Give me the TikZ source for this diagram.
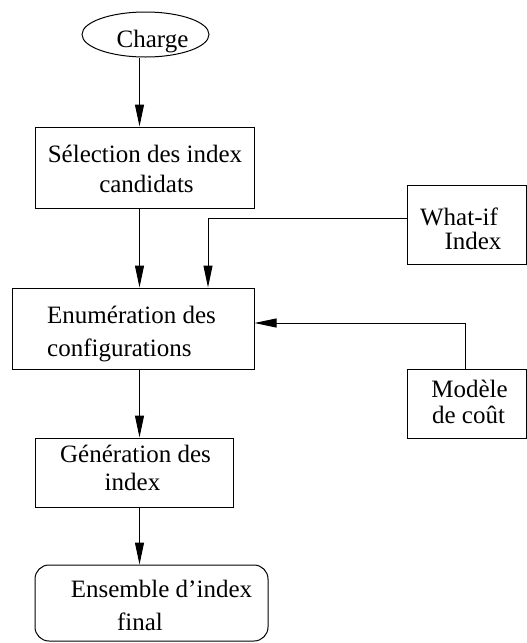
\documentclass[tikz,border=0pt]{standalone}
\usepackage{fontspec}
\setmainfont{Liberation Serif}
\usetikzlibrary{arrows.meta,shapes.geometric}
\begin{document}
\begin{tikzpicture}[x=1pt,y=-1pt,
  box/.style={draw,line width=1pt,inner sep=0pt,rectangle},
  txt/.style={font=\fontsize{25}{30}\selectfont,inner sep=0pt,anchor=base},
  arr/.style={line width=1pt,-{Triangle[length=22pt,width=9pt]}}]
\useasboundingbox (0,0) rectangle (527,643);

% boxes
\node[draw,line width=1pt,ellipse,inner sep=0pt,minimum width=127pt,minimum height=45pt] (charge) at (145.5,34.5) {};
\node[box,minimum width=219pt,minimum height=81pt] (sel) at (144.5,167.5) {};
\node[box,minimum width=242pt,minimum height=81pt] (enum) at (133,328.5) {};
\node[box,minimum width=198pt,minimum height=69pt] (gen) at (134,472.5) {};
\node[box,rounded corners=14pt,minimum width=233pt,minimum height=76pt] (ens) at (151.5,603) {};
\node[box,minimum width=119pt,minimum height=79pt] (what) at (466.5,224.5) {};
\node[box,minimum width=119pt,minimum height=69pt] (cost) at (466.5,403.5) {};

% texts
\node[txt] (chargeT) at (152.5,47) {Charge};
\node[txt] (selA) at (145,162) {Sélection des index};
\node[txt] (selB) at (146.5,192) {candidats};
\node[txt,anchor=base west] (enumA) at (47,323) {Enumération des};
\node[txt,anchor=base west] (enumB) at (47,356) {configurations};
\node[txt] (genA) at (135.5,462) {Génération des};
\node[txt] (genB) at (132.5,490) {index};
\node[txt] (ensA) at (161.5,597) {Ensemble d'index};
\node[txt] (ensB) at (140,630) {final};
\node[txt] (whatA) at (459,225) {What-if};
\node[txt] (whatB) at (473,249) {Index};
\node[txt] (costA) at (469.5,397) {Modèle};
\node[txt] (costB) at (468.5,423) {de coût};

% connectors
\coordinate (spine) at (139.5,0);
\draw[arr] (charge.south -| spine) -- (sel.north -| spine);
\draw[arr] (sel.south -| spine) -- (enum.north -| spine);
\draw[arr] (enum.south -| spine) -- (gen.north -| spine);
\draw[arr] (gen.south -| spine) -- (ens.north -| spine);
\coordinate (wturn) at (208,218);
\draw[arr] (what.west |- wturn) -- (wturn) -- (enum.north -| wturn);
\coordinate (cturn) at (465,323);
\draw[arr] (cost.north -| cturn) -- (cturn) -- (enum.east |- cturn);
\end{tikzpicture}
\end{document}
